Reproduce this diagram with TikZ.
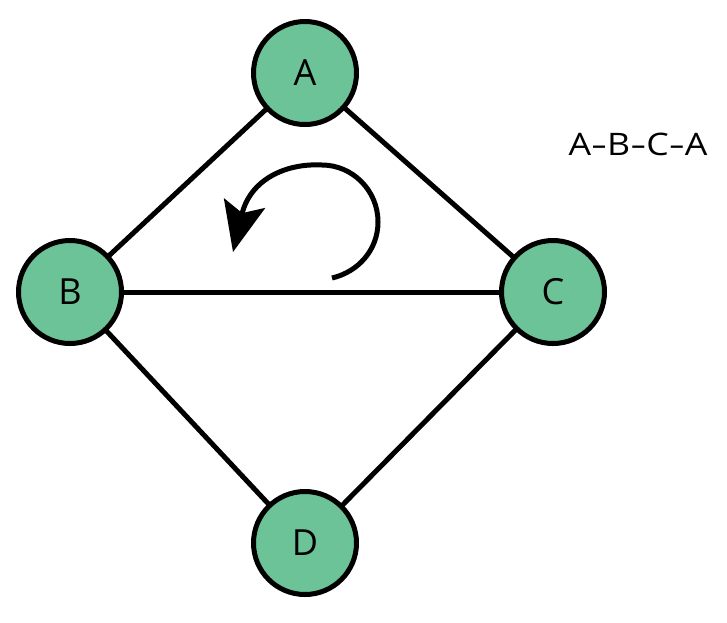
\documentclass[tikz,border=0pt]{standalone}
\usepackage{fontspec}
\setmainfont{Open Sans}
\newfontfamily\lblfont[FakeStretch=1.15]{Open Sans}
\usetikzlibrary{arrows.meta}
\definecolor{nodegreen}{RGB}{109,195,152}
\newcommand{\wdash}{\scalebox{1.4}[1]{-}}
\begin{document}
\begin{tikzpicture}[x=1pt,y=-1pt,
  vertex/.style={circle,draw=black,line width=5pt,fill=nodegreen,minimum size=103pt,inner sep=0pt,font=\fontsize{36}{40}\selectfont},
  edge/.style={line width=5pt,draw=black},
  lbl/.style={font=\lblfont\fontsize{31}{36}\selectfont}]
\useasboundingbox (0,0) rectangle (727,622);
\coordinate (A0) at (305,73);
\coordinate (B0) at (70,292);
\coordinate (C0) at (553,292);
\coordinate (D0) at (305,543);
\draw[edge] (A0) -- (B0);
\draw[edge] (A0) -- (C0);
\draw[edge] (B0) -- (C0);
\draw[edge] (B0) -- (D0);
\draw[edge] (C0) -- (D0);
\node[vertex] (A) at (A0) {A};
\node[vertex] (B) at (B0) {B};
\node[vertex] (C) at (C0) {C};
\node[vertex] (D) at (D0) {D};
\node[lbl] (path) at (638,144) {A\wdash B\wdash C\wdash A};
\coordinate (arcstart) at (332,278);
\coordinate (arcright) at (378,222);
\coordinate (arctop) at (322,165);
\coordinate (arctip) at (233,252);
\draw[line width=5pt,-{Stealth[length=50pt,width=42pt,inset=10pt]}]
  (arcstart) .. controls (358,272) and (378,250) .. (arcright)
  .. controls (378,190) and (352,165) .. (arctop)
  .. controls (285,163) and (250,180) .. (arctip);
\end{tikzpicture}
\end{document}
